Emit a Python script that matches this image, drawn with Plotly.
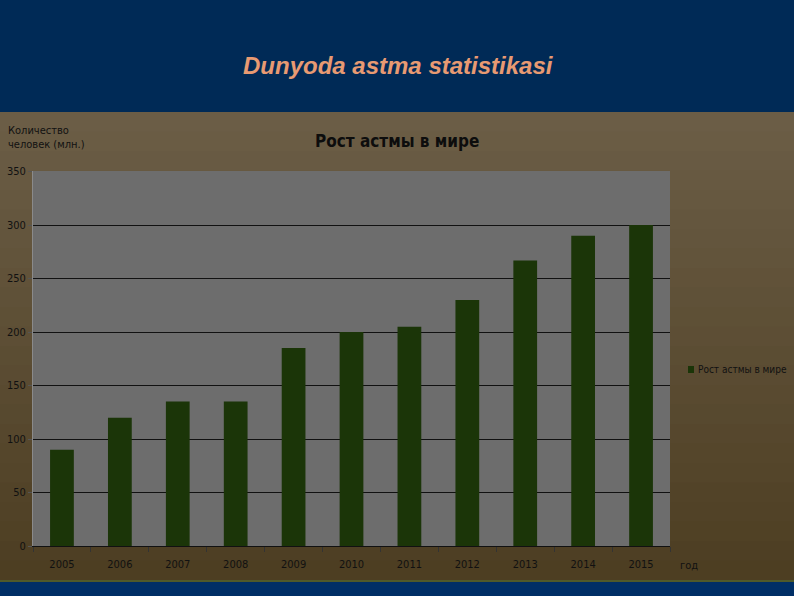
import plotly.graph_objects as go

years = ["2005", "2006", "2007", "2008", "2009", "2010", "2011", "2012", "2013", "2014", "2015"]
cases = [90, 120, 135, 135, 185, 200, 205, 230, 267, 290, 300]
series_name = "Рост астмы в мире"
y_ticks = [0, 50, 100, 150, 200, 250, 300, 350]

W, H = 794, 596
FONT = "DejaVu Sans Condensed, Liberation Sans Narrow, Arial Narrow, sans-serif"
BAR_COLOR = "#1b3508"
PLOT_BG = "#6d6d6d"

fig = go.Figure()
fig.add_trace(go.Bar(
    x=years, y=cases, name=series_name,
    marker=dict(color=BAR_COLOR, line=dict(width=0)),
    width=0.41, showlegend=False,
))

L, R, T, B = 33, 670, 171, 546


def py(pix):
    return (B - pix) / (B - T)


def px(pix):
    return (pix - L) / (R - L)


X0, X1 = px(-30), px(W + 30)
shapes = []
shapes.append(dict(type="rect", xref="paper", yref="paper",
                   x0=X0, x1=X1, y0=py(112), y1=py(-30),
                   fillcolor="#002a56", line=dict(width=0), layer="below"))
n = 24
c0 = (0x6b, 0x5d, 0x46)
c1 = (0x4d, 0x3e, 0x22)
ytop, ybot = 112, 580
for i in range(n):
    t = i / (n - 1)
    c = tuple(round(c0[k] + (c1[k] - c0[k]) * t) for k in range(3))
    y0p = ytop + (ybot - ytop) * i / n
    y1p = ytop + (ybot - ytop) * (i + 1) / n
    shapes.append(dict(type="rect", xref="paper", yref="paper",
                       x0=X0, x1=X1, y0=py(y1p + 0.5), y1=py(y0p),
                       fillcolor="rgb(%d,%d,%d)" % c, line=dict(width=0), layer="below"))
shapes.append(dict(type="rect", xref="paper", yref="paper",
                   x0=X0, x1=X1, y0=py(582), y1=py(580),
                   fillcolor="#4f5a2a", line=dict(width=0), layer="below"))
shapes.append(dict(type="rect", xref="paper", yref="paper",
                   x0=X0, x1=X1, y0=py(630), y1=py(582),
                   fillcolor="#002f66", line=dict(width=0), layer="below"))
# plot area background
shapes.append(dict(type="rect", xref="paper", yref="paper",
                   x0=0, x1=1, y0=0, y1=1,
                   fillcolor=PLOT_BG, line=dict(width=0), layer="below"))
# legend swatch
shapes.append(dict(type="rect", xref="paper", yref="paper",
                   x0=px(688), x1=px(694), y0=py(373), y1=py(366),
                   fillcolor=BAR_COLOR, line=dict(width=0)))

fig.update_layout(
    width=W, height=H, autosize=False,
    margin=dict(l=L, r=W - R, t=T, b=H - B, pad=0, autoexpand=False),
    paper_bgcolor="#5e5038",
    plot_bgcolor=PLOT_BG,
    shapes=shapes,
    showlegend=False,
    bargap=0.58,
    font=dict(family=FONT, color="#111111"),
)

fig.update_xaxes(
    type="category", showgrid=False, automargin=False,
    showline=True, linecolor="#111111", linewidth=1,
    ticks="outside", ticklen=5, tickcolor="#333333", tickson="boundaries",
    tickfont=dict(family=FONT, size=11, color="#111111"),
    ticklabelstandoff=8,
)
fig.update_yaxes(
    range=[0, 350.6], tickvals=y_ticks, automargin=False,
    showgrid=True, gridcolor="#111111", gridwidth=1,
    showline=True, linecolor="#8a8a8a", linewidth=1,
    ticks="outside", ticklen=4, tickcolor="#555555",
    tickfont=dict(family=FONT, size=11, color="#111111"),
    zeroline=False,
)

annotations = [
    dict(text="<b><i>Dunyoda astma statistikasi</i></b>", xref="paper", yref="paper",
         x=px(398), y=py(65), showarrow=False, xanchor="center", yanchor="middle",
         font=dict(family="Liberation Sans, Arial, sans-serif", size=24, color="#e89a72")),
    dict(text="<b>Рост астмы в мире</b>", xref="paper", yref="paper",
         x=px(397), y=py(141), showarrow=False, xanchor="center", yanchor="middle",
         font=dict(family=FONT, size=17, color="#0d0d0d")),
    dict(text="Количество<br>человек (млн.)", xref="paper", yref="paper",
         x=px(6), y=py(137), showarrow=False, xanchor="left", yanchor="middle", align="left",
         font=dict(family=FONT, size=11, color="#111111")),
    dict(text="год", xref="paper", yref="paper",
         x=px(678), y=py(565), showarrow=False, xanchor="left", yanchor="middle",
         font=dict(family=FONT, size=11, color="#111111")),
    dict(text=series_name, xref="paper", yref="paper",
         x=px(696), y=py(369.5), showarrow=False, xanchor="left", yanchor="middle",
         font=dict(family=FONT, size=10, color="#111111")),
]
fig.update_layout(annotations=annotations)

fig.write_html("out.html", config={"displayModeBar": False},
               post_script="document.body.style.margin='0';document.body.style.overflow='hidden';")
